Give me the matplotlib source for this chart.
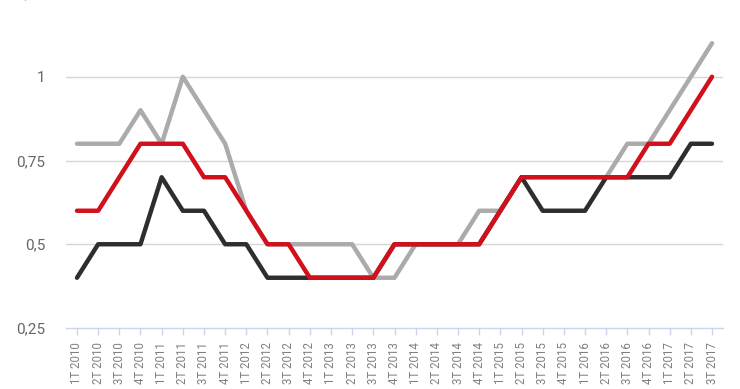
import matplotlib
matplotlib.use("Agg")
import matplotlib.pyplot as plt

plt.rcParams['font.family'] = ['Roboto', 'DejaVu Sans']

quarters = [f"{q}T {y}" for y in range(2010, 2018) for q in range(1, 5)][:31]

gray_vals = [0.8, 0.8, 0.8, 0.9, 0.8, 1.0, 0.9, 0.8, 0.6, 0.5, 0.5, 0.5, 0.5, 0.5, 0.4, 0.4,
             0.5, 0.5, 0.5, 0.6, 0.6, 0.7, 0.7, 0.7, 0.7, 0.7, 0.8, 0.8, 0.9, 1.0, 1.1]
black_vals = [0.4, 0.5, 0.5, 0.5, 0.7, 0.6, 0.6, 0.5, 0.5, 0.4, 0.4, 0.4, 0.4, 0.4, 0.4, 0.5,
              0.5, 0.5, 0.5, 0.5, 0.6, 0.7, 0.6, 0.6, 0.6, 0.7, 0.7, 0.7, 0.7, 0.8, 0.8]
red_vals = [0.6, 0.6, 0.7, 0.8, 0.8, 0.8, 0.7, 0.7, 0.6, 0.5, 0.5, 0.4, 0.4, 0.4, 0.4, 0.5,
            0.5, 0.5, 0.5, 0.5, 0.6, 0.7, 0.7, 0.7, 0.7, 0.7, 0.7, 0.8, 0.8, 0.9, 1.0]

y_ticks = [0.25, 0.5, 0.75, 1.0, 1.25]
y_labels = ["0,25", "0,5", "0,75", "1", "1,25"]

fig = plt.figure(figsize=(7.4, 3.89), dpi=100)
W, H = 740, 389
left_px, right_px = 66.4, 722.6
bottom_px, top_px = 328, -7
ax = fig.add_axes([left_px / W, (H - bottom_px) / H, (right_px - left_px) / W, (bottom_px - top_px) / H])

x = list(range(len(quarters)))
lw = 3.2
ax.plot(x, gray_vals, color='#ababab', lw=lw, solid_capstyle='round', solid_joinstyle='round', zorder=3)
ax.plot(x, black_vals, color='#2e2e2e', lw=lw, solid_capstyle='round', solid_joinstyle='round', zorder=4)
ax.plot(x, red_vals, color='#d2101c', lw=lw, solid_capstyle='round', solid_joinstyle='round', zorder=5)

ax.set_xlim(-0.5, len(quarters) - 0.5)
ax.set_ylim(0.25, 1.25)

for yv in y_ticks[1:]:
    ax.axhline(yv, color='#d6d6d6', lw=1.0, zorder=1)

for s in ['top', 'right', 'left']:
    ax.spines[s].set_visible(False)
ax.spines['bottom'].set_color('#ccd6eb')
ax.spines['bottom'].set_linewidth(1.0)

ax.set_yticks(y_ticks)
ax.set_yticklabels(y_labels)
ax.tick_params(axis='y', length=0, pad=15, labelsize=11, labelcolor='#666666')

ax.set_xticks(x)
ax.set_xticklabels(quarters, rotation=90)
ax.tick_params(axis='x', length=5, width=1, color='#ccd6eb', direction='out', pad=5,
               labelsize=8.3, labelcolor='#808080')
for lab in ax.get_xticklabels():
    lab.set_verticalalignment('top')

fig.savefig("out.png", dpi=100)
